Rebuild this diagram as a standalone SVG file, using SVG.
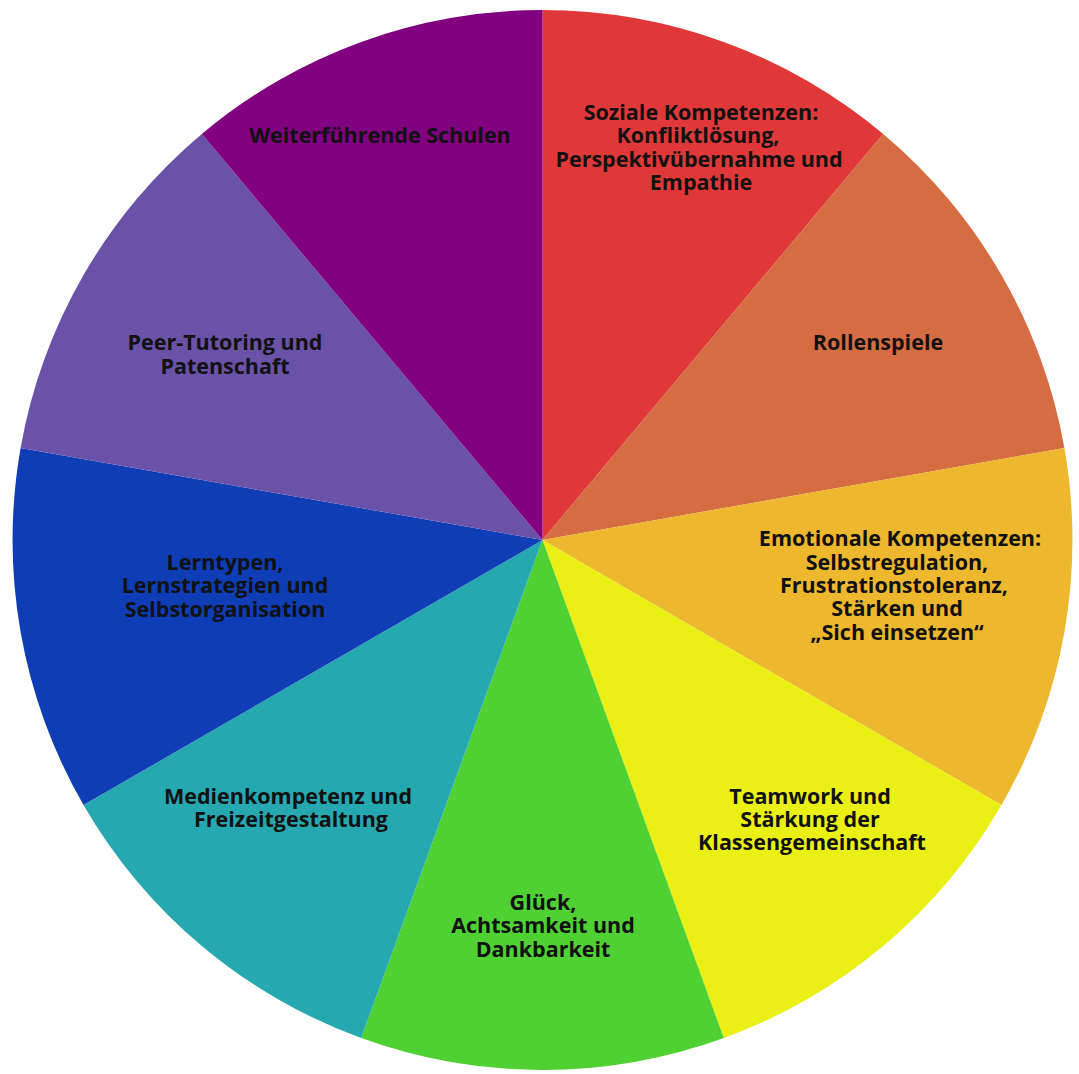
<svg xmlns="http://www.w3.org/2000/svg" width="1079" height="1074" viewBox="0 0 1079 1074">
<style>
text{font-family:"Open Sans","Noto Sans",sans-serif;font-weight:bold;font-size:21.5px;fill:#111;text-anchor:middle}
</style>
<rect width="1079" height="1074" fill="#fff"/>
<g id="s1"><path d="M542.5,540 L542.5,10 A530,530 0 0 1 883.2,134 Z" fill="#E03838"/>
<text x="701" y="120">Soziale Kompetenzen:</text><text x="698" y="143">Konfliktlösung,</text><text x="699" y="167">Perspektivübernahme und</text><text x="701" y="190">Empathie</text></g>
<g id="s2"><path d="M542.5,540 L883.2,134 A530,530 0 0 1 1064.4,448 Z" fill="#D66C41"/>
<text x="878" y="350">Rollenspiele</text></g>
<g id="s3"><path d="M542.5,540 L1064.4,448 A530,530 0 0 1 1001.5,805 Z" fill="#EDB72E"/>
<text x="900" y="546">Emotionale Kompetenzen:</text><text x="897" y="570">Selbstregulation,</text><text x="894" y="593">Frustrationstoleranz,</text><text x="897" y="616">Stärken und</text><text x="897" y="640">„Sich einsetzen“</text></g>
<g id="s4"><path d="M542.5,540 L1001.5,805 A530,530 0 0 1 723.8,1038 Z" fill="#EAF013"/>
<text x="810" y="804">Teamwork und</text><text x="810" y="827">Stärkung der</text><text x="812" y="850">Klassengemeinschaft</text></g>
<g id="s5"><path d="M542.5,540 L723.8,1038 A530,530 0 0 1 361.2,1038 Z" fill="#4FD133"/>
<text x="543" y="910">Glück,</text><text x="543" y="933">Achtsamkeit und</text><text x="543" y="957">Dankbarkeit</text></g>
<g id="s6"><path d="M542.5,540 L361.2,1038 A530,530 0 0 1 83.5,805 Z" fill="#25A8B0"/>
<text x="288" y="804">Medienkompetenz und</text><text x="291" y="827">Freizeitgestaltung</text></g>
<g id="s7"><path d="M542.5,540 L83.5,805 A530,530 0 0 1 20.6,448 Z" fill="#0F3DB5"/>
<text x="225" y="570">Lerntypen,</text><text x="225" y="593">Lernstrategien und</text><text x="225" y="617">Selbstorganisation</text></g>
<g id="s8"><path d="M542.5,540 L20.6,448 A530,530 0 0 1 201.8,134 Z" fill="#6A52A8"/>
<text x="225" y="350">Peer-Tutoring und</text><text x="225" y="374">Patenschaft</text></g>
<g id="s9"><path d="M542.5,540 L201.8,134 A530,530 0 0 1 542.5,10 Z" fill="#800080"/>
<text x="380" y="143">Weiterführende Schulen</text></g>
<g id="connectors"/>
</svg>
